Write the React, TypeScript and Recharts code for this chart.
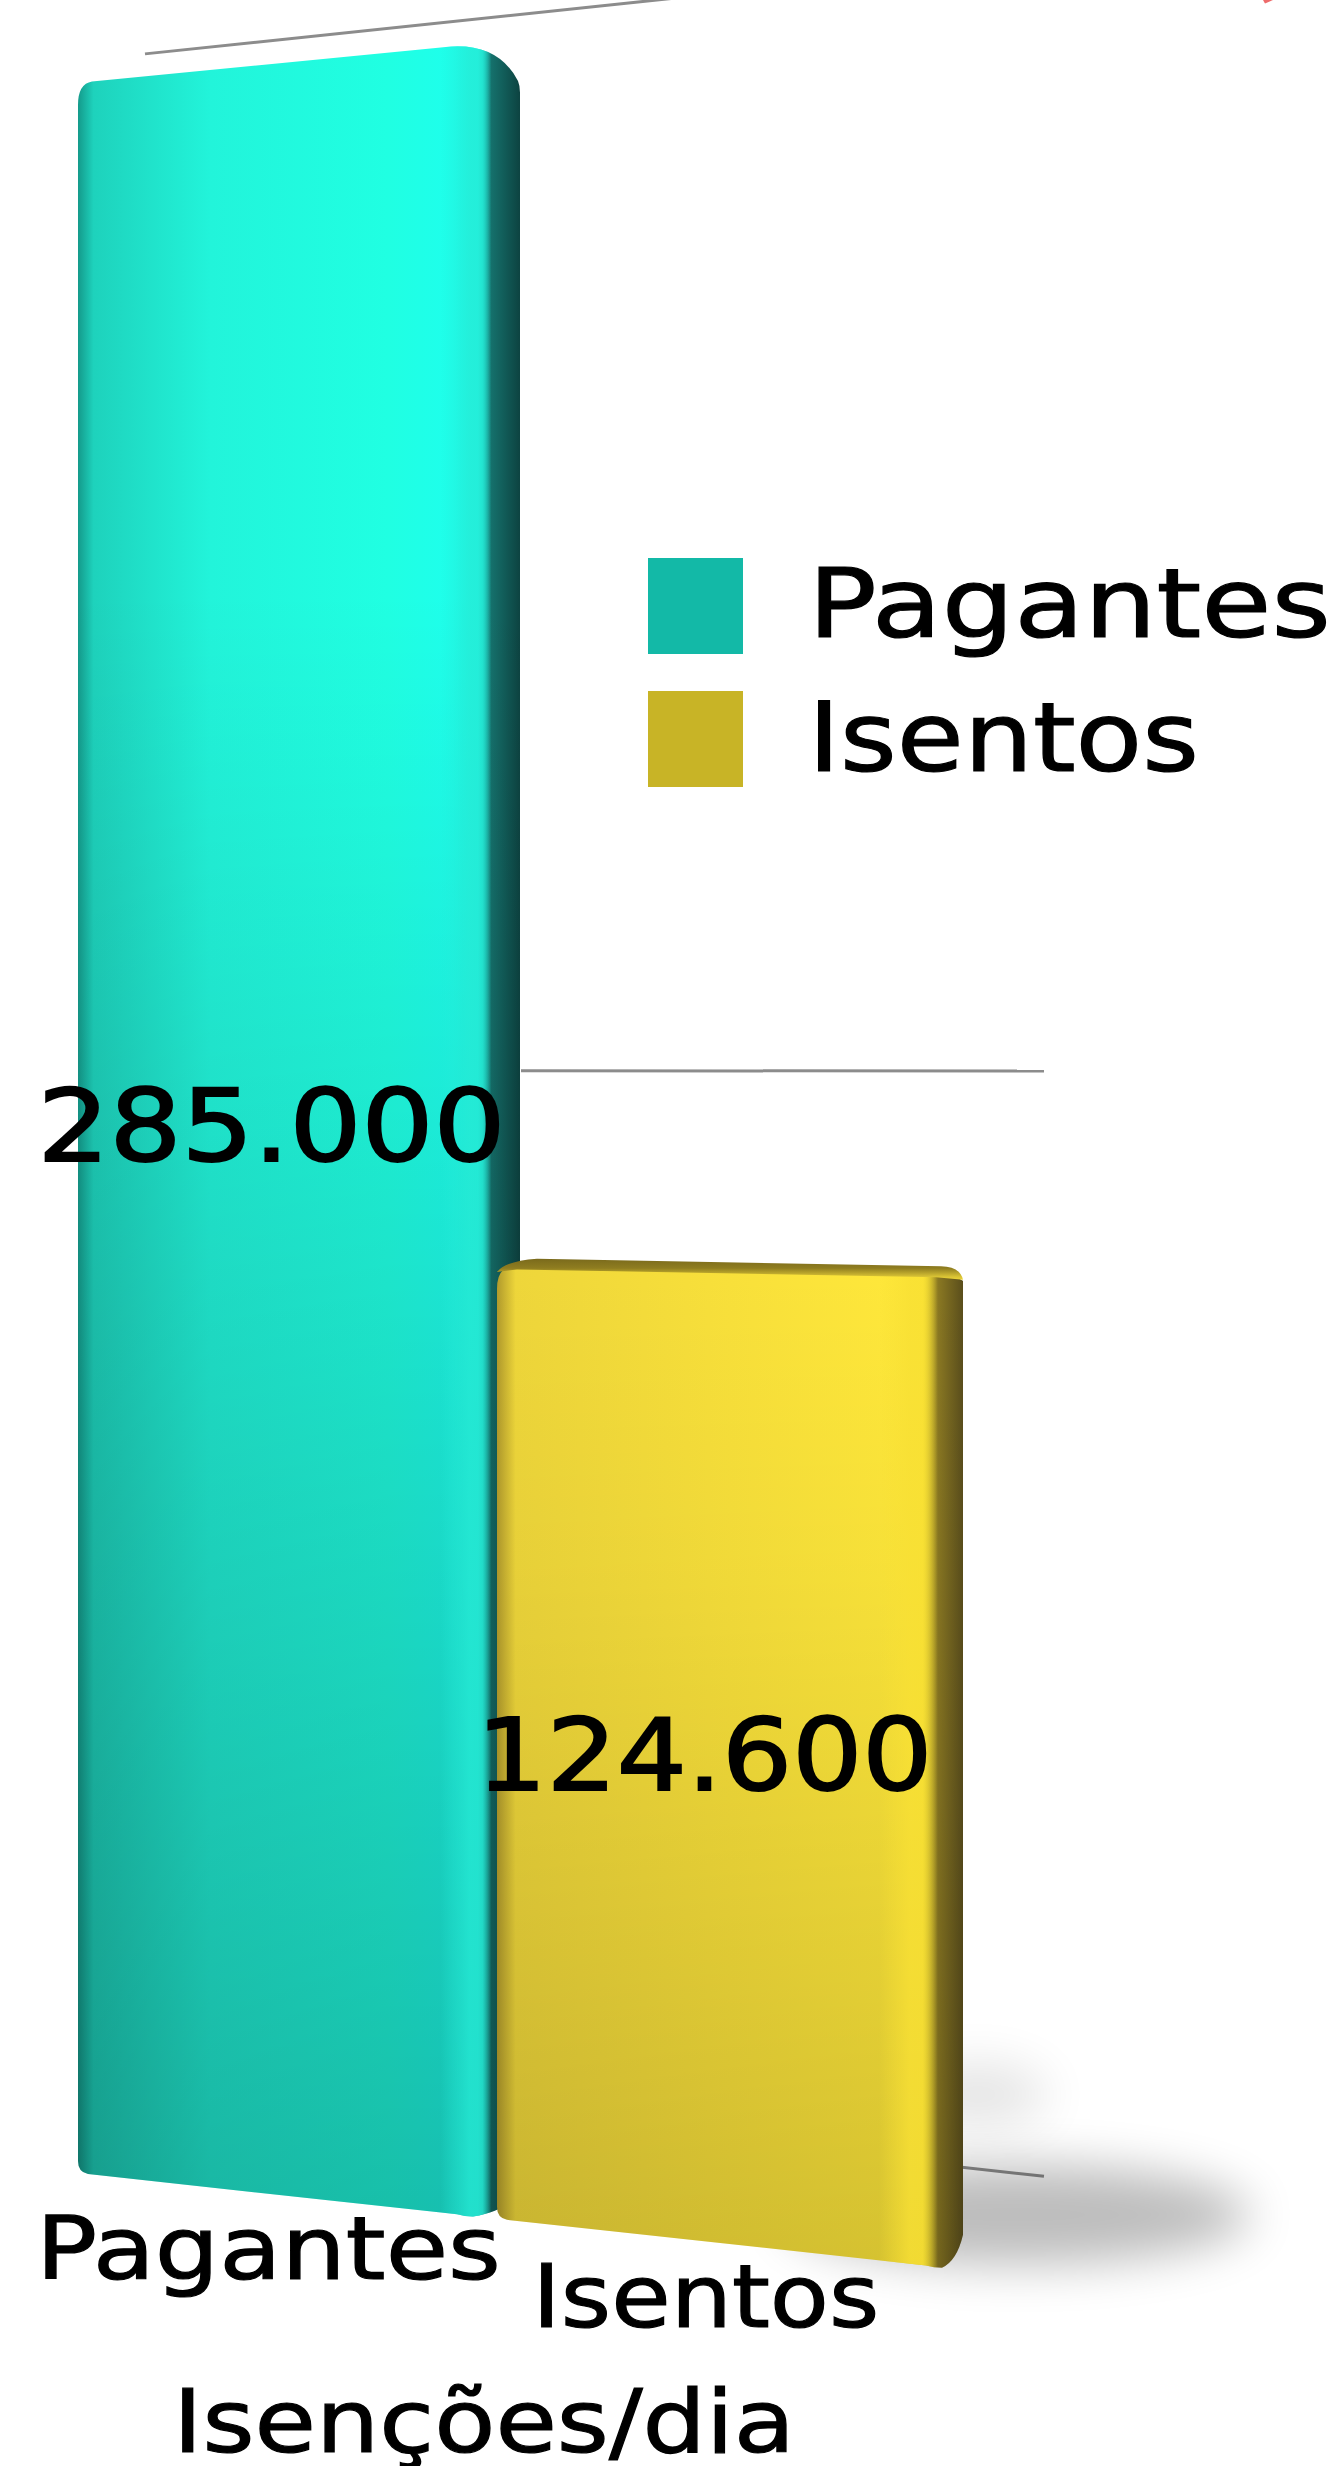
import React from "react";
import { BarChart, Bar, XAxis, YAxis, CartesianGrid, Legend, LabelList } from "recharts";

const categories = ["Pagantes", "Isentos"];
const pagantes = [285000, null];
const isentos = [null, 124600];
const gridTicks = [0, 150000, 300000];
const axisTitle = "Isenções/dia";

const chartData = categories.map((name, i) => ({ name, Pagantes: pagantes[i], Isentos: isentos[i] }));

const W = 1342;
const H = 2466;
const FONT = "'DejaVu Sans', sans-serif";
const HORIZON = 1071;
const PIVOT = 500;
const K = 9.5e-5;

const TEXT_WIDTHS: Record<string, number> = {
  Pagantes: 465,
  Isentos: 347,
  "Isenções/dia": 622,
  "285.000": 468,
  "124.600": 456,
};
const LEGEND_WIDTHS: Record<string, number> = { Pagantes: 523, Isentos: 391 };

const warpY = (x: number, y: number) => HORIZON + (y - HORIZON) * (1 + K * (x - PIVOT));
const fmt = (v: number) => String(v).replace(/\B(?=(\d{3})+(?!\d))/g, ".");
const pt = (x: number, y: number) => `${x.toFixed(1)} ${y.toFixed(1)}`;

type BarLook = { grad: string; shade: string; rim: string; spreadL: number; spreadR: number; topInset: number; topDrop: number; botInset: number; botRise: number };
const looks: Record<string, BarLook> = {
  Pagantes: { grad: "tealFace", shade: "tealShade", rim: "tealRim", spreadL: 6, spreadR: 3, topInset: 61, topDrop: 47, botInset: 51, botRise: 30 },
  Isentos: { grad: "yellowFace", shade: "yellowShade", rim: "yellowRim", spreadL: 20, spreadR: 13, topInset: 27, topDrop: 6, botInset: 25, botRise: 32 },
};

function BarShape(props: any, look: BarLook, isYellow: boolean) {
  const { x, y, width, height } = props;
  if (!height || height <= 0) return <g />;
  const L = x - look.spreadL;
  const R = x + width + look.spreadR;
  const T = y;
  const B = y + height;
  const tr = R - look.topInset;
  const br = R - look.botInset;
  const yTL = warpY(L, T);
  const yBL = warpY(L, B);
  const yTr = warpY(tr, T);
  const yBr = warpY(br, B);
  const r = 14;
  const outline = [
    `M ${pt(L, yTL + r + 8)}`,
    `Q ${pt(L, yTL + 1)} ${pt(L + r, warpY(L + r, T))}`,
    `L ${pt(tr - 8, warpY(tr - 8, T))}`,
    `Q ${pt(R - look.topInset * 0.35, yTr - 2)} ${pt(R - 2, yTr + look.topDrop * 0.75)}`,
    `Q ${pt(R, yTr + look.topDrop * 0.85)} ${pt(R, yTr + look.topDrop)}`,
    `L ${pt(R, yBr - look.botRise)}`,
    `Q ${pt(R - 6, yBr - 6)} ${pt(br + 4, yBr + 1)}`,
    `Q ${pt(br - 4, yBr + 1)} ${pt(br - 12, warpY(br - 12, B))}`,
    `L ${pt(L + 10, warpY(L + 10, B))}`,
    `Q ${pt(L, yBL - 1)} ${pt(L, yBL - 12)}`,
    "Z",
  ].join(" ");
  const band = isYellow
    ? [
        `M ${pt(L, yTL + 5)}`,
        `Q ${pt(L + 8, yTL - 6)} ${pt(L + 40, warpY(L + 40, T) - 9)}`,
        `L ${pt(R - 22, warpY(R - 22, T) - 9)}`,
        `Q ${pt(R - 3, warpY(R, T) - 9)} ${pt(R, warpY(R, T) + 4)}`,
        `L ${pt(R - 27, warpY(R - 27, T) + 2)}`,
        `L ${pt(L + 20, warpY(L + 20, T) + 2)}`,
        "Z",
      ].join(" ")
    : null;
  return (
    <g>
      {isYellow && (
        <g>
          <ellipse cx={R + 15} cy={warpY(R, B) - 175} rx={70} ry={32} fill="#000" opacity={0.1} filter="url(#softBig)" />
          <ellipse cx={R + 55} cy={yBr - 52} rx={232} ry={50} fill="#000" opacity={0.26} filter="url(#softBig)" />
        </g>
      )}
      <path d={outline} fill={`url(#${look.grad})`} />
      <path d={outline} fill={`url(#${look.shade})`} />
      <path d={outline} fill={`url(#${look.rim})`} />
      {band && <path d={band} fill="url(#yellowBand)" />}
    </g>
  );
}

function StretchText({ x, y, text, size, widths, bold }: { x: number; y: number; text: string; size: number; widths: Record<string, number>; bold: number }) {
  return (
    <text
      x={x}
      y={y}
      textAnchor="middle"
      fontFamily={FONT}
      fontSize={size}
      fill="#000000"
      stroke="#000000"
      strokeWidth={bold}
      textLength={widths[text]}
      lengthAdjust="spacingAndGlyphs"
    >
      {text}
    </text>
  );
}

function ValueLabel(props: any) {
  const { x, y, width, height, value } = props;
  if (value === null || value === undefined || !height) return <g />;
  const cx = x + width / 2;
  const mid = warpY(cx, y + height / 2);
  return <StretchText x={cx - 29} y={mid + 32} text={fmt(value)} size={100} widths={TEXT_WIDTHS} bold={2} />;
}

function CategoryTick(props: any) {
  const { x, payload } = props;
  const baseY = warpY(x, props.y);
  return <StretchText x={x - 32 + (x - 300) * 0.01} y={baseY + 74} text={payload.value} size={88} widths={TEXT_WIDTHS} bold={1.2} />;
}

function AxisTitle(props: any) {
  const vb = props.viewBox;
  return <StretchText x={vb.x + vb.width / 2 - 33} y={vb.y + 233} text={axisTitle} size={88} widths={TEXT_WIDTHS} bold={1.2} />;
}

function WallLine(props: any) {
  const { y1 } = props;
  const above = y1 < HORIZON - 400;
  const below = y1 > HORIZON + 400;
  const depth = above ? 0.92 : 0.912;
  const kWall = above ? 1.0e-4 : 1.06e-4;
  const xa = below ? 522 : above ? 145 : 521;
  const xb = above ? 1342 : 1044;
  const wall = (xx: number) => HORIZON - 2 + (y1 - HORIZON) * depth * (1 + kWall * (xx - PIVOT));
  return <line x1={xa} y1={wall(xa)} x2={xb} y2={wall(xb)} stroke="#8c8c8c" strokeWidth={3} />;
}

function LegendBox(props: any) {
  const items = [...(props.payload || [])].sort(
    (a: any, b: any) => categories.indexOf(a.value) - categories.indexOf(b.value)
  );
  return (
    <svg width={694} height={240} style={{ display: "block" }}>
      {items.map((it: any, i: number) => (
        <g key={it.value}>
          <rect x={0} y={i * 133} width={95} height={96} fill={it.color} />
          <text
            x={160}
            y={79 + i * 134}
            fontFamily={FONT}
            fontSize={97}
            fill="#000000"
            stroke="#000000"
            strokeWidth={1.2}
            textLength={LEGEND_WIDTHS[it.value]}
            lengthAdjust="spacingAndGlyphs"
          >
            {it.value}
          </text>
        </g>
      ))}
    </svg>
  );
}

export default function App() {
  return (
    <div style={{ position: "absolute", left: 0, top: 0, width: W, height: H, overflow: "hidden", background: "#fff" }}>
      <BarChart
        width={W}
        height={H}
        data={chartData}
        barCategoryGap={0}
        margin={{ top: -73, right: 392, bottom: 0, left: 84 }}
      >
        <defs>
          <linearGradient id="tealFace" x1="0" y1="0" x2="1" y2="0">
            <stop offset="0" stopColor="#149a8b" />
            <stop offset="0.035" stopColor="#1ed2bc" />
            <stop offset="0.3" stopColor="#22f4da" />
            <stop offset="0.7" stopColor="#20ffe2" />
            <stop offset="0.85" stopColor="#1effec" />
            <stop offset="0.905" stopColor="#1cf6e6" />
            <stop offset="0.935" stopColor="#15716c" />
            <stop offset="1" stopColor="#0d4341" />
          </linearGradient>
          <linearGradient id="tealRim" x1="0" y1="0" x2="1" y2="0">
            <stop offset="0.82" stopColor="#26ecd6" stopOpacity="0" />
            <stop offset="0.885" stopColor="#26ecd6" stopOpacity="0.75" />
            <stop offset="0.915" stopColor="#26ecd6" stopOpacity="0.75" />
            <stop offset="0.935" stopColor="#26ecd6" stopOpacity="0" />
          </linearGradient>
          <linearGradient id="yellowFace" x1="0" y1="0" x2="1" y2="0">
            <stop offset="0" stopColor="#b09a2c" />
            <stop offset="0.04" stopColor="#eed63a" />
            <stop offset="0.5" stopColor="#f8e03a" />
            <stop offset="0.88" stopColor="#ffe83a" />
            <stop offset="0.913" stopColor="#ffe834" />
            <stop offset="0.947" stopColor="#8a7822" />
            <stop offset="1" stopColor="#5a4e1c" />
          </linearGradient>
          <linearGradient id="yellowRim" x1="0" y1="0" x2="1" y2="0">
            <stop offset="0.82" stopColor="#f8e034" stopOpacity="0" />
            <stop offset="0.885" stopColor="#f8e034" stopOpacity="0.8" />
            <stop offset="0.913" stopColor="#f8e034" stopOpacity="0.8" />
            <stop offset="0.945" stopColor="#f8e034" stopOpacity="0" />
          </linearGradient>
          <linearGradient id="yellowBand" x1="0" y1="0" x2="0" y2="1">
            <stop offset="0" stopColor="#7a6a1c" />
            <stop offset="0.45" stopColor="#8f7d20" />
            <stop offset="0.85" stopColor="#d8c234" />
            <stop offset="1" stopColor="#ecd436" />
          </linearGradient>
          <linearGradient id="tealShade" x1="0" y1="0" x2="0" y2="1">
            <stop offset="0" stopColor="#000" stopOpacity="0" />
            <stop offset="0.25" stopColor="#000" stopOpacity="0" />
            <stop offset="0.55" stopColor="#000" stopOpacity="0.1" />
            <stop offset="1" stopColor="#000" stopOpacity="0.25" />
          </linearGradient>
          <linearGradient id="yellowShade" x1="0" y1="0" x2="0" y2="1">
            <stop offset="0" stopColor="#000" stopOpacity="0" />
            <stop offset="0.3" stopColor="#000" stopOpacity="0.03" />
            <stop offset="1" stopColor="#000" stopOpacity="0.16" />
          </linearGradient>
          <filter id="softBig" x="-50%" y="-150%" width="200%" height="400%">
            <feGaussianBlur stdDeviation="24" />
          </filter>
        </defs>
        <CartesianGrid vertical={false} horizontal={(p: any) => <WallLine key={p.key ?? p.y1} {...p} />} />
        <XAxis
          dataKey="name"
          axisLine={false}
          tickLine={false}
          interval={0}
          height={247}
          tick={CategoryTick}
          label={<AxisTitle />}
        />
        <YAxis hide domain={[0, 300000]} ticks={gridTicks} />
        <Legend
          layout="vertical"
          align="center"
          verticalAlign="middle"
          content={LegendBox}
          wrapperStyle={{ position: "absolute", left: 648, top: 558, width: 694, height: 240 }}
        />
        <Bar
          dataKey="Pagantes"
          name="Pagantes"
          stackId="a"
          fill="#13b9a7"
          legendType="square"
          isAnimationActive={false}
          shape={(p: any) => BarShape(p, looks.Pagantes, false)}
        >
          <LabelList dataKey="Pagantes" content={ValueLabel} />
        </Bar>
        <Bar
          dataKey="Isentos"
          name="Isentos"
          stackId="a"
          fill="#c8b426"
          legendType="square"
          isAnimationActive={false}
          shape={(p: any) => BarShape(p, looks.Isentos, true)}
        >
          <LabelList dataKey="Isentos" content={ValueLabel} />
        </Bar>
        <path d="M1263 0 L1273 0 L1265 3.5 Z" fill="#ee6b6b" />
      </BarChart>
    </div>
  );
}
